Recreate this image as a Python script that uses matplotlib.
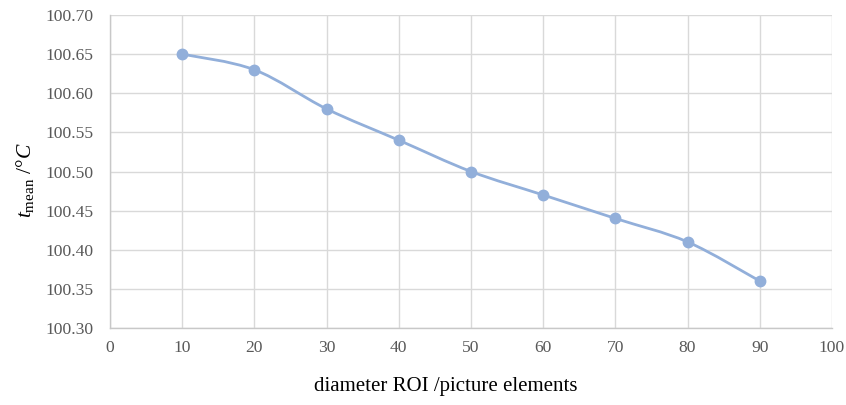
import numpy as np
import matplotlib
matplotlib.use("Agg")
import matplotlib.pyplot as plt
from matplotlib.path import Path
from matplotlib.patches import PathPatch

plt.rcParams['font.family'] = ['Liberation Serif', 'DejaVu Serif']
plt.rcParams['mathtext.fontset'] = 'custom'
plt.rcParams['mathtext.rm'] = 'Liberation Serif'
plt.rcParams['mathtext.it'] = 'Liberation Serif:italic'

diameter = [10, 20, 30, 40, 50, 60, 70, 80, 90]
t_mean = [100.65, 100.63, 100.58, 100.54, 100.50, 100.47, 100.44, 100.41, 100.36]
x_ticks = [0, 10, 20, 30, 40, 50, 60, 70, 80, 90, 100]
y_ticks = [100.30, 100.35, 100.40, 100.45, 100.50, 100.55, 100.60, 100.65, 100.70]

color = '#92AFDA'
grid_c = '#D9D9D9'
tick_c = '#595959'

fig = plt.figure(figsize=(8.46, 4.05), dpi=100)
ax = fig.add_axes([110/846, 1-328/405, (832-110)/846, (328-15)/405])

# Excel-like smoothed line via cubic Bezier segments
P = np.column_stack([diameter, t_mean]).astype(float)
n = len(P)
verts = [tuple(P[0])]
codes = [Path.MOVETO]
for i in range(n - 1):
    p0 = P[i - 1] if i > 0 else P[i]
    p1 = P[i]
    p2 = P[i + 1]
    p3 = P[i + 2] if i + 2 < n else P[i + 1]
    c1 = p1 + (p2 - p0) / 6.0
    c2 = p2 - (p3 - p1) / 6.0
    verts += [tuple(c1), tuple(c2), tuple(p2)]
    codes += [Path.CURVE4] * 3
patch = PathPatch(Path(verts, codes), facecolor='none', edgecolor=color, lw=2.0,
                  capstyle='round', joinstyle='round', zorder=3)
ax.add_patch(patch)
ax.plot(diameter, t_mean, linestyle='none', marker='o', markersize=7.5,
        color=color, zorder=4)

ax.set_xlim(0, 100)
ax.set_ylim(100.30, 100.70)
ax.set_xticks(x_ticks)
ax.set_yticks(y_ticks)
ax.set_xticklabels([str(v) for v in x_ticks])
ax.set_yticklabels([f'{v:.2f}' for v in y_ticks])
ax.grid(True, color=grid_c, lw=1.0)
ax.set_axisbelow(True)
for s in ['top', 'right']:
    ax.spines[s].set_visible(False)
for s in ['left', 'bottom']:
    ax.spines[s].set_color('#C8C8C8')
    ax.spines[s].set_linewidth(1.0)
ax.tick_params(axis='both', length=0, labelsize=12.6, labelcolor=tick_c)
ax.tick_params(axis='x', pad=9)
ax.tick_params(axis='y', pad=12)

fig.text(446/846, 1-387/405, 'diameter ROI /picture elements', ha='center', va='center',
         fontsize=15, color='black')
fig.text(25/846, 1-180/405, r'$t_{\mathrm{mean}}$ $/°C$', ha='center', va='center',
         rotation=90, fontsize=15.5, color='black')

fig.savefig('out.png', dpi=100)
